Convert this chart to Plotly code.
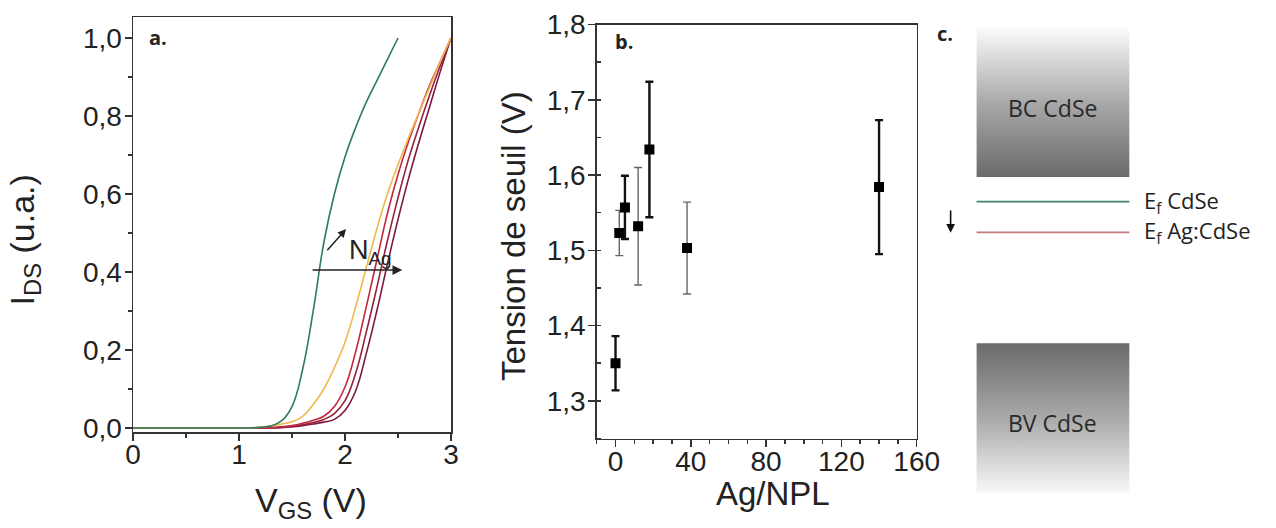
import plotly.graph_objects as go

W, H = 1276, 528

# ---------------- Panel a : transfer curves ----------------
vgs_green = [0.0, 1.0, 1.1, 1.2, 1.3, 1.4, 1.5, 1.6, 1.7, 1.8, 1.9, 2.0, 2.1, 2.2, 2.3, 2.4, 2.5]
ids_green = [0.0, 0.0, 0.0, 0.002, 0.005, 0.018, 0.055, 0.15, 0.30, 0.475, 0.60, 0.695, 0.77, 0.835, 0.89, 0.945, 1.0]

vgs_ag = [0.0, 1.0, 1.1, 1.2, 1.3, 1.4, 1.5, 1.6, 1.7, 1.8, 1.9, 2.0, 2.1, 2.2, 2.3, 2.4, 2.5, 2.6, 2.7, 2.8, 2.9, 3.0]
ids_orange = [0.0, 0.0, 0.0, 0.002, 0.005, 0.01, 0.016, 0.03, 0.06, 0.10, 0.155, 0.22, 0.31, 0.41, 0.51, 0.60, 0.675, 0.745, 0.81, 0.875, 0.94, 1.0]
ids_red1 = [0.0, 0.0, 0.0, 0.0, 0.001, 0.003, 0.006, 0.012, 0.02, 0.03, 0.055, 0.105, 0.195, 0.31, 0.43, 0.55, 0.65, 0.735, 0.81, 0.88, 0.94, 1.0]
ids_red2 = [0.0, 0.0, 0.0, 0.0, 0.001, 0.002, 0.004, 0.008, 0.014, 0.022, 0.037, 0.07, 0.14, 0.245, 0.36, 0.48, 0.59, 0.69, 0.775, 0.855, 0.93, 1.0]
ids_red3 = [0.0, 0.0, 0.0, 0.0, 0.0, 0.001, 0.003, 0.006, 0.01, 0.015, 0.022, 0.045, 0.095, 0.19, 0.30, 0.42, 0.535, 0.64, 0.735, 0.825, 0.915, 1.0]

# ---------------- Panel b : threshold voltage ----------------
ag_npl = [0, 2, 5, 12, 18, 38, 140]
v_th = [1.350, 1.523, 1.557, 1.532, 1.634, 1.503, 1.584]
v_th_err = [0.036, 0.030, 0.042, 0.078, 0.090, 0.061, 0.089]
thin_bar_idx = [1, 3, 5]

# ---------------- Panel c : band diagram ----------------
band_names = ["BC CdSe", "BV CdSe"]
band_top = [9.47, 3.50]
band_bottom = [6.65, 0.66]
fermi_names = ["E<sub>f</sub> CdSe", "E<sub>f</sub> Ag:CdSe"]
fermi_levels = [6.18, 5.60]
fermi_colors = ["#3d8468", "#c47a7e"]

fig = go.Figure()

# Panel a traces
for ys, col in [(ids_red3, "#7c1840"), (ids_red2, "#94203c"), (ids_red1, "#c2283e"), (ids_orange, "#f0b84e")]:
    fig.add_trace(go.Scatter(x=vgs_ag, y=ys, mode="lines",
                             line=dict(color=col, width=1.6, shape="spline", smoothing=1.2),
                             xaxis="x", yaxis="y", hoverinfo="skip"))
fig.add_trace(go.Scatter(x=vgs_green, y=ids_green, mode="lines",
                         line=dict(color="#2f7a5c", width=1.6, shape="spline", smoothing=1.2),
                         xaxis="x", yaxis="y", hoverinfo="skip"))

# Panel b traces
thick_idx = [i for i in range(len(ag_npl)) if i not in thin_bar_idx]
for idxs, col, w in [(thin_bar_idx, "#666666", 1.4), (thick_idx, "#111111", 2.4)]:
    fig.add_trace(go.Scatter(
        x=[ag_npl[i] for i in idxs], y=[v_th[i] for i in idxs], mode="markers",
        marker=dict(symbol="square", size=10, color="#000000"),
        error_y=dict(type="data", array=[v_th_err[i] for i in idxs], color=col, thickness=w, width=4),
        xaxis="x2", yaxis="y2", hoverinfo="skip"))

# Panel c bands
band_x0, band_x1 = 0.159, 0.588
for name, top, bot in zip(band_names, band_top, band_bottom):
    if top > 5:
        cs = [[0, "#6a6a6a"], [0.5, "#a9a9a9"], [1, "#fbfbfb"]]
    else:
        cs = [[0, "#f8f8f8"], [0.5, "#a9a9a9"], [1, "#6a6a6a"]]
    fig.add_trace(go.Scatter(
        x=[band_x0, band_x1, band_x1, band_x0, band_x0], y=[bot, bot, top, top, bot],
        mode="lines", line=dict(width=0), fill="toself",
        fillgradient=dict(type="vertical", colorscale=cs, start=bot, stop=top),
        xaxis="x3", yaxis="y3", hoverinfo="skip"))
    fig.add_annotation(x=(band_x0 + band_x1) / 2, y=(top + bot) / 2 - 0.1, xref="x3", yref="y3",
                       xanchor="center", yanchor="middle",
                       text=name, showarrow=False, font=dict(family="Open Sans, Noto Sans", size=23, color="#2a2a2a"))

for name, lvl, col in zip(fermi_names, fermi_levels, fermi_colors):
    fig.add_trace(go.Scatter(x=[band_x0, band_x1], y=[lvl, lvl], mode="lines",
                             line=dict(color=col, width=1.8), xaxis="x3", yaxis="y3", hoverinfo="skip"))
    fig.add_annotation(x=0.623, y=lvl, xref="x3", yref="y3", xanchor="left", yanchor="middle",
                       text=name, showarrow=False, font=dict(family="Open Sans, Noto Sans", size=22, color="#222222"))

# down arrow in panel c
fig.add_annotation(x=0.086, y=fermi_levels[1] - 0.01, ax=0.086, ay=fermi_levels[0] - 0.14,
                   xref="x3", yref="y3", axref="x3", ayref="y3", showarrow=True,
                   arrowhead=2, arrowsize=1.1, arrowwidth=1.6, arrowcolor="#111111", text="")
fig.add_annotation(x=0.07, y=9.375, xref="x3", yref="y3", text="<b>c.</b>", showarrow=False,
                   xanchor="center", font=dict(family="Open Sans, Noto Sans", size=20, color="#222222"))

# Panel a annotations
fig.add_annotation(x=0.13, y=1.0, xref="x", yref="y", text="<b>a.</b>", showarrow=False, xanchor="left",
                   font=dict(family="Open Sans, Noto Sans", size=20, color="#222222"))
fig.add_annotation(x=2.54, y=0.405, ax=1.68, ay=0.405, xref="x", yref="y", axref="x", ayref="y",
                   showarrow=True, arrowhead=2, arrowsize=1.3, arrowwidth=1.5, arrowcolor="#222222", text="")
fig.add_annotation(x=2.01, y=0.51, ax=1.82, ay=0.452, xref="x", yref="y", axref="x", ayref="y",
                   showarrow=True, arrowhead=2, arrowsize=1.1, arrowwidth=1.5, arrowcolor="#222222", text="")
fig.add_annotation(x=2.02, y=0.45, xref="x", yref="y", text="N<sub>Ag</sub>", showarrow=False, xanchor="left",
                   font=dict(family="Liberation Sans, Arial", size=27, color="#222222"))

# Panel b label
fig.add_annotation(x=-1.5, y=1.777, xref="x2", yref="y2", text="<b>b.</b>", showarrow=False, xanchor="left",
                   font=dict(family="Open Sans, Noto Sans", size=20, color="#222222"))

# Axis titles
tfont = dict(family="Liberation Sans, Arial", color="#222222")
fig.add_annotation(x=0, y=1 - 240 / H, xref="paper", yref="paper", text="I<sub>DS</sub> (u.a.)",
                   textangle=-90, showarrow=False, xanchor="left", yanchor="middle", font=dict(size=34, **tfont))
fig.add_annotation(x=311 / W, y=1 - 479 / H, xref="paper", yref="paper", text="V<sub>GS</sub> (V)",
                   showarrow=False, xanchor="center", yanchor="top", font=dict(size=34, **tfont))
fig.add_annotation(x=513 / W, y=1 - 236 / H, xref="paper", yref="paper", text="Tension de seuil (V)",
                   textangle=-90, showarrow=False, xanchor="center", yanchor="middle", font=dict(size=33, **tfont))
fig.add_annotation(x=773 / W, y=1 - 473 / H, xref="paper", yref="paper", text="Ag/NPL",
                   showarrow=False, xanchor="center", yanchor="top", font=dict(size=33, **tfont))

axis_common = dict(showline=True, linecolor="#333333", linewidth=1.5, mirror=True, ticks="outside",
                   tickcolor="#333333", ticklen=7, tickwidth=1.5, showgrid=False, zeroline=False,
                   automargin=False,
                   tickfont=dict(family="Liberation Sans, Arial", size=28, color="#222222"))

fig.update_layout(
    template="none",
    width=W, height=H, autosize=False,
    margin=dict(l=0, r=0, t=0, b=0, pad=0),
    paper_bgcolor="white", plot_bgcolor="white",
    showlegend=False, separators=",.",
    xaxis=dict(domain=[133 / W, 451 / W], range=[0, 3], dtick=1, anchor="y", ticklabelstandoff=-10,
               minor=dict(ticks="outside", dtick=0.5, ticklen=4, tickcolor="#333333"), **axis_common),
    yaxis=dict(domain=[1 - 432 / H, 1 - 17 / H], range=[-0.0103, 1.0538], dtick=0.2, tickformat=".1f", anchor="x",
               ticklabelstandoff=-3,
               minor=dict(ticks="outside", dtick=0.1, ticklen=4, tickcolor="#333333"), **axis_common),
    xaxis2=dict(domain=[596.7 / W, 916.7 / W], range=[-10, 160], dtick=40, tick0=0, anchor="y2", ticklabelstandoff=-10,
                minor=dict(ticks="outside", dtick=10, ticklen=4, tickcolor="#333333"), **axis_common),
    yaxis2=dict(domain=[1 - 438.5 / H, 1 - 24.5 / H], range=[1.25, 1.8], dtick=0.1, tick0=1.3, tickformat=".1f", anchor="x2",
                ticklabelstandoff=-3,
                minor=dict(ticks="inside", dtick=0.05, ticklen=4, tickcolor="#333333"), **axis_common),
    xaxis3=dict(domain=[920 / W, 1.0], range=[0, 1], visible=False, anchor="y3", automargin=False),
    yaxis3=dict(domain=[0, 1], range=[0, 10], visible=False, anchor="x3", automargin=False),
)

fig.write_html("out.html", config={"displayModeBar": False, "staticPlot": True},
               post_script="document.body.style.margin='0';document.body.style.overflow='hidden';")
